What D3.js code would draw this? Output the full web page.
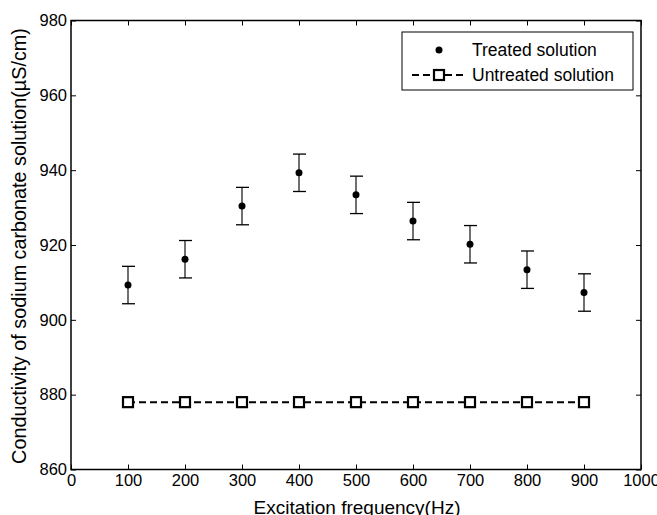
<!DOCTYPE html>
<html>
<head>
<meta charset="utf-8">
<script src="https://cdn.jsdelivr.net/npm/d3@7"></script>
<style>
  body { margin: 0; background: #fff; }
  svg { display: block; font-family: "Liberation Sans", Arial, sans-serif; }
</style>
</head>
<body>
<svg id="chart" width="657" height="515"></svg>
<script>
var width = 657;
var height = 515;

// data
var frequencies = [100, 200, 300, 400, 500, 600, 700, 800, 900];
var treated = [909.3, 916.2, 930.4, 939.3, 933.4, 926.4, 920.2, 913.4, 907.3];
var treatedErr = [5, 5, 5, 5, 5, 5, 5, 5, 5];
var untreated = [878, 878, 878, 878, 878, 878, 878, 878, 878];
var xTicks = [0, 100, 200, 300, 400, 500, 600, 700, 800, 900, 1000];
var yTicks = [860, 880, 900, 920, 940, 960, 980];
var legendLabels = ["Treated solution", "Untreated solution"];

// plot box (note: "top" is taken by window.top)
var pLeft = 71, pRight = 641, pTop = 20.5, pBottom = 469.5;

var svg = d3.select("#chart");

var x = d3.scaleLinear().domain([0, 1000]).range([pLeft, pRight]);
var y = d3.scaleLinear().domain([860, 980]).range([pBottom, pTop]);

// axes, matlab style: ticks inward, on all four sides
var tickLen = 5;
svg.append("g")
    .attr("transform", "translate(0," + pBottom + ")")
    .call(d3.axisBottom(x).tickValues(xTicks).tickSize(-tickLen).tickPadding(5).tickFormat(d3.format("d")))
    .call(function(g) { g.select(".domain").remove(); })
    .selectAll("text").attr("font-size", 16.5).attr("fill", "#000");

svg.append("g")
    .attr("transform", "translate(0," + pTop + ")")
    .call(d3.axisTop(x).tickValues(xTicks).tickSize(-tickLen).tickFormat(""))
    .call(function(g) { g.select(".domain").remove(); });

svg.append("g")
    .attr("transform", "translate(" + pLeft + ",0)")
    .call(d3.axisLeft(y).tickValues(yTicks).tickSize(-tickLen).tickPadding(4).tickFormat(d3.format("d")))
    .call(function(g) { g.select(".domain").remove(); })
    .selectAll("text").attr("font-size", 16.5).attr("fill", "#000");

svg.append("g")
    .attr("transform", "translate(" + pRight + ",0)")
    .call(d3.axisRight(y).tickValues(yTicks).tickSize(-tickLen).tickFormat(""))
    .call(function(g) { g.select(".domain").remove(); });

svg.selectAll(".tick line").attr("stroke", "#000");

svg.append("rect")
    .attr("x", pLeft).attr("y", pTop)
    .attr("width", pRight - pLeft).attr("height", pBottom - pTop)
    .attr("fill", "none").attr("stroke", "#000").attr("stroke-width", 1.5);

// untreated: dashed line with open squares
var line = d3.line()
    .x(function(d, i) { return x(frequencies[i]); })
    .y(function(d) { return y(d); });

svg.append("path")
    .datum(untreated)
    .attr("d", line)
    .attr("fill", "none")
    .attr("stroke", "#000")
    .attr("stroke-width", 2)
    .attr("stroke-dasharray", "7,4");

svg.selectAll(".sq")
    .data(untreated)
    .enter().append("rect")
    .attr("class", "sq")
    .attr("x", function(d, i) { return x(frequencies[i]) - 5; })
    .attr("y", function(d) { return y(d) - 5; })
    .attr("width", 10).attr("height", 10)
    .attr("fill", "#fff")
    .attr("stroke", "#000")
    .attr("stroke-width", 2.2);

// treated: error bars + dots
var eb = svg.selectAll(".eb")
    .data(treated)
    .enter().append("g")
    .attr("class", "eb");

eb.append("line")
    .attr("x1", function(d, i) { return x(frequencies[i]); })
    .attr("x2", function(d, i) { return x(frequencies[i]); })
    .attr("y1", function(d, i) { return y(d + treatedErr[i]); })
    .attr("y2", function(d, i) { return y(d - treatedErr[i]); })
    .attr("stroke", "#222").attr("stroke-width", 1.3);

eb.append("line")
    .attr("x1", function(d, i) { return x(frequencies[i]) - 6; })
    .attr("x2", function(d, i) { return x(frequencies[i]) + 7; })
    .attr("y1", function(d, i) { return y(d + treatedErr[i]); })
    .attr("y2", function(d, i) { return y(d + treatedErr[i]); })
    .attr("stroke", "#000").attr("stroke-width", 1.3);

eb.append("line")
    .attr("x1", function(d, i) { return x(frequencies[i]) - 6; })
    .attr("x2", function(d, i) { return x(frequencies[i]) + 7; })
    .attr("y1", function(d, i) { return y(d - treatedErr[i]); })
    .attr("y2", function(d, i) { return y(d - treatedErr[i]); })
    .attr("stroke", "#000").attr("stroke-width", 1.3);

eb.append("circle")
    .attr("cx", function(d, i) { return x(frequencies[i]); })
    .attr("cy", function(d) { return y(d); })
    .attr("r", 3.5)
    .attr("fill", "#000");

// legend
var lg = svg.append("g").attr("transform", "translate(402,32)");
lg.append("rect")
    .attr("width", 231).attr("height", 58)
    .attr("fill", "#fff").attr("stroke", "#000").attr("stroke-width", 1);
lg.append("circle").attr("cx", 37).attr("cy", 18).attr("r", 3.5).attr("fill", "#000");
lg.append("line")
    .attr("x1", 10).attr("x2", 64).attr("y1", 43).attr("y2", 43)
    .attr("stroke", "#000").attr("stroke-width", 2).attr("stroke-dasharray", "7,4");
lg.append("rect")
    .attr("x", 32).attr("y", 38).attr("width", 10).attr("height", 10)
    .attr("fill", "#fff").attr("stroke", "#000").attr("stroke-width", 2.2);
lg.selectAll(".lt")
    .data(legendLabels)
    .enter().append("text")
    .attr("class", "lt")
    .attr("x", 70)
    .attr("y", function(d, i) { return 18 + i * 25; })
    .attr("dy", "0.35em")
    .attr("font-size", 17.5)
    .text(function(d) { return d; });

// axis titles
svg.append("text")
    .attr("x", 357)
    .attr("y", 514)
    .attr("text-anchor", "middle")
    .attr("font-size", 19)
    .text("Excitation frequency(Hz)");

svg.append("text")
    .attr("transform", "translate(26,246) rotate(-90)")
    .attr("text-anchor", "middle")
    .attr("font-size", 19.8)
    .text("Conductivity of sodium carbonate solution(\u00b5S/cm)");
</script>
</body>
</html>
